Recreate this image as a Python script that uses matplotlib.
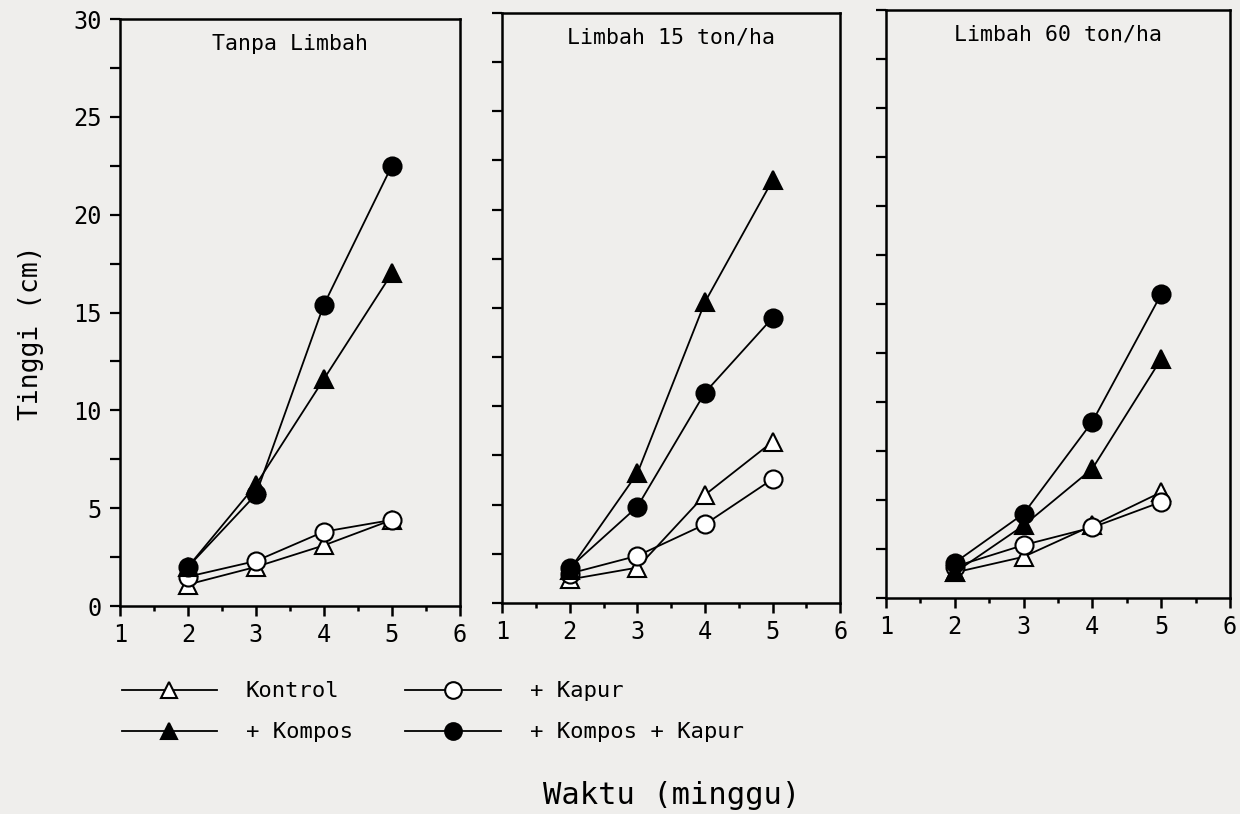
import matplotlib
matplotlib.use("Agg")
import matplotlib.pyplot as plt
from matplotlib.ticker import MultipleLocator
from matplotlib.lines import Line2D

weeks = [2, 3, 4, 5]
panel_titles = ["Tanpa Limbah", "Limbah 15 ton/ha", "Limbah 60 ton/ha"]
series_names = ["Kontrol", "+ Kapur", "+ Kompos", "+ Kompos + Kapur"]

# values per panel (Tanpa, 15, 60)
kontrol = [[1.1, 2.0, 3.1, 4.4], [1.2, 1.8, 5.5, 8.2], [1.3, 2.1, 3.7, 5.4]]
kapur = [[1.5, 2.3, 3.8, 4.4], [1.5, 2.4, 4.0, 6.3], [1.6, 2.7, 3.6, 4.9]]
kompos = [[2.0, 6.2, 11.6, 17.0], [1.7, 6.6, 15.3, 21.5], [1.3, 3.7, 6.6, 12.2]]
kompos_kapur = [[2.0, 5.7, 15.4, 22.5], [1.8, 4.9, 10.7, 14.5], [1.8, 4.3, 9.0, 15.5]]

ytick_vals = [0, 2.5, 5, 7.5, 10, 12.5, 15, 17.5, 20, 22.5, 25, 27.5, 30]
ytick_labels = ["0", "", "5", "", "10", "", "15", "", "20", "", "25", "", "30"]
xticks = [1, 2, 3, 4, 5, 6]

bg = "#efeeec"
font = "DejaVu Sans Mono"
plt.rcParams["font.family"] = [font]

fig = plt.figure(figsize=(12.4, 8.14), dpi=100, facecolor=bg)

positions = [
    [0.0968, 0.2555, 0.274, 0.7211],
    [0.405, 0.2592, 0.2726, 0.725],
    [0.7145, 0.2654, 0.2774, 0.722],
]

styles = [
    (kontrol, dict(marker="^", mfc="white", mec="black")),
    (kapur, dict(marker="o", mfc="white", mec="black")),
    (kompos, dict(marker="^", mfc="black", mec="black")),
    (kompos_kapur, dict(marker="o", mfc="black", mec="black")),
]

for i, pos in enumerate(positions):
    ax = fig.add_axes(pos, facecolor=bg)
    for data, st in styles:
        ax.plot(weeks, data[i], color="black", lw=1.3, ms=13, mew=1.5, **st)
    ax.set_xlim(1, 6)
    ax.set_ylim(0, 30)
    ax.set_xticks(xticks)
    ax.xaxis.set_minor_locator(MultipleLocator(0.5))
    ax.set_yticks(ytick_vals)
    if i == 0:
        ax.set_yticklabels(ytick_labels)
    else:
        ax.set_yticklabels([])
    ax.tick_params(axis="x", which="major", direction="out", length=7, width=1.8,
                   labelsize=17, pad=5)
    ax.tick_params(axis="x", which="minor", direction="out", length=3.5, width=1.8)
    ax.tick_params(axis="y", which="major", direction="out", length=7, width=1.6,
                   labelsize=17, pad=6)
    for s in ax.spines.values():
        s.set_linewidth(1.8)
    ax.text(0.5, 0.975, panel_titles[i], transform=ax.transAxes, ha="center",
            va="top", fontsize=15.5)

h_kontrol = Line2D([], [], color="black", lw=1.3, marker="^", mfc="white", mec="black", ms=12, mew=1.5)
h_kompos = Line2D([], [], color="black", lw=1.3, marker="^", mfc="black", mec="black", ms=12, mew=1.5)
h_kapur = Line2D([], [], color="black", lw=1.3, marker="o", mfc="white", mec="black", ms=12, mew=1.5)
h_kk = Line2D([], [], color="black", lw=1.3, marker="o", mfc="black", mec="black", ms=12, mew=1.5)

leg_kw = dict(frameon=False, fontsize=16, handlelength=4.3, labelspacing=0.95,
              handletextpad=1.3, loc="upper left", borderaxespad=0, borderpad=0)
fig.legend([h_kontrol, h_kompos], [series_names[0], series_names[2]],
           bbox_to_anchor=(0.098, 0.163), **leg_kw)
fig.legend([h_kapur, h_kk], [series_names[1], series_names[3]],
           bbox_to_anchor=(0.327, 0.163), **leg_kw)

fig.text(0.025, 0.591, "Tinggi (cm)", rotation=90, ha="center", va="center", fontsize=19)
fig.text(0.542, 0.023, "Waktu (minggu)", ha="center", va="center", fontsize=22)

fig.savefig("out.png", dpi=100, facecolor=bg)
